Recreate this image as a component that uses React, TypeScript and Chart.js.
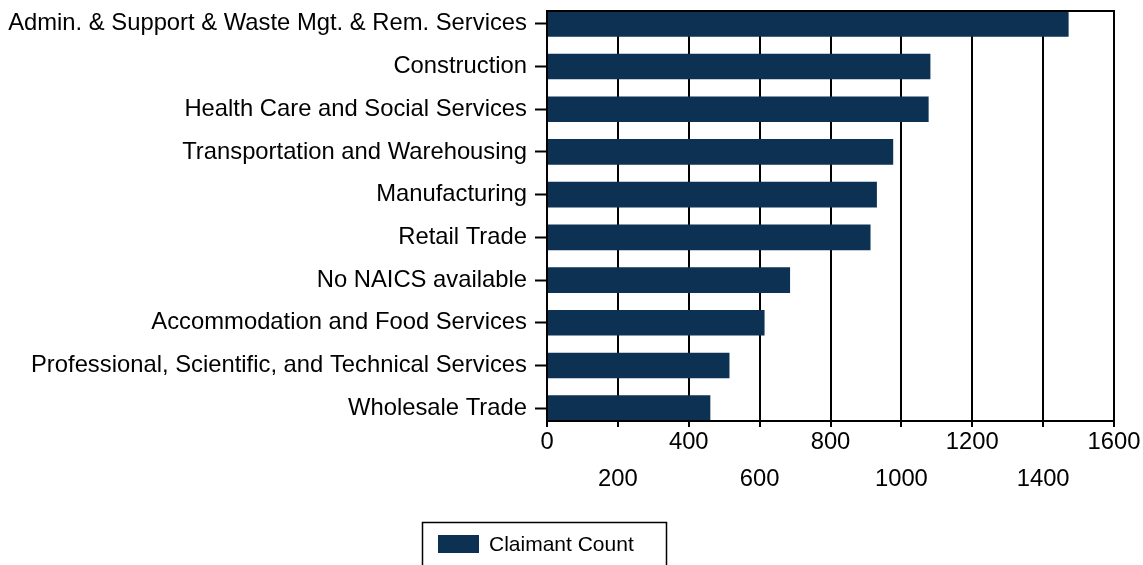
import React, { useEffect, useRef } from 'react';
import { Chart, registerables } from 'chart.js';

Chart.register(...registerables);

const categories = [
  'Admin. & Support & Waste Mgt. & Rem. Services',
  'Construction',
  'Health Care and Social Services',
  'Transportation and Warehousing',
  'Manufacturing',
  'Retail Trade',
  'No NAICS available',
  'Accommodation and Food Services',
  'Professional, Scientific, and Technical Services',
  'Wholesale Trade',
];
const claimantCounts = [1471, 1081, 1076, 976, 930, 912, 685, 613, 514, 460];
const xTickValues = [0, 200, 400, 600, 800, 1000, 1200, 1400, 1600];
const seriesLabel = 'Claimant Count';
const barColor = '#0d3152';

const FONT = '"Liberation Sans", Arial, sans-serif';
const W = 1143;
const H = 565;

export default function App() {
  const ref = useRef<HTMLCanvasElement>(null);

  useEffect(() => {
    if (!ref.current) return;

    const framePlugin = {
      id: 'frameAndLegend',
      afterDatasetsDraw(chart: any) {
        const { ctx, chartArea } = chart;
        ctx.save();
        ctx.strokeStyle = '#000';
        ctx.lineWidth = 2;
        ctx.strokeRect(chartArea.left, chartArea.top, chartArea.right - chartArea.left, chartArea.bottom - chartArea.top);
        ctx.restore();
      },
      afterDraw(chart: any) {
        const { ctx } = chart;
        const ds = chart.data.datasets[0];
        ctx.save();
        ctx.strokeStyle = '#000';
        ctx.lineWidth = 1.5;
        ctx.strokeRect(422.5, 522.5, 244, 60);
        ctx.fillStyle = ds.backgroundColor;
        ctx.fillRect(438, 535, 41, 18);
        ctx.fillStyle = '#000';
        ctx.font = `21px ${FONT}`;
        ctx.textBaseline = 'middle';
        ctx.textAlign = 'left';
        ctx.fillText(ds.label, 489, 545);
        ctx.restore();
      },
    };

    const chart = new Chart(ref.current, {
      type: 'bar',
      data: {
        datasets: [
          {
            label: seriesLabel,
            data: categories.map((_, i) => ({ x: claimantCounts[i], y: i })),
            backgroundColor: barColor,
            barThickness: 25,
          },
        ],
      },
      options: {
        animation: false,
        responsive: false,
        indexAxis: 'y',
        layout: { padding: { top: 11, right: W - 1114, left: 0, bottom: H - 421 - 100 } },
        plugins: { legend: { display: false }, tooltip: { enabled: false } },
        scales: {
          x: {
            type: 'linear',
            position: 'bottom',
            min: 0,
            max: 1600,
            afterBuildTicks: (s: any) => {
              s.ticks = xTickValues.map((v) => ({ value: v }));
            },
            ticks: {
              callback: (v: any, i: number) => (i % 2 === 0 ? String(v) : ['', String(v)]),
              font: { family: FONT, size: 23.8, lineHeight: 1.55 },
              color: '#000',
              padding: -3,
              maxRotation: 0,
              autoSkip: false,
            },
            grid: { color: '#000', lineWidth: 2, tickLength: 6, drawTicks: true },
            border: { color: '#000', width: 2 },
            afterFit: (s: any) => {
              s.height = 100;
              s.paddingLeft = 0;
              s.paddingRight = 0;
            },
          },
          y: {
            type: 'linear',
            reverse: true,
            min: -0.3,
            max: 9.3,
            offset: false,
            afterBuildTicks: (s: any) => {
              s.ticks = categories.map((_, i) => ({ value: i }));
            },
            ticks: {
              callback: (v: any) => categories[v],
              font: { family: FONT, size: 23.8 },
              color: '#000',
              padding: 8,
              autoSkip: false,
            },
            grid: { offset: false, drawOnChartArea: false, drawTicks: true, tickLength: 12, tickColor: '#000', tickWidth: 2 },
            border: { color: '#000', width: 2 },
            afterFit: (s: any) => {
              s.width = 547;
              s.paddingTop = 0;
              s.paddingBottom = 0;
            },
          },
        },
      },
      plugins: [framePlugin],
    } as any);

    return () => chart.destroy();
  }, []);

  return (
    <div style={{ position: 'fixed', left: 0, top: 0, width: W, height: H }}>
      <canvas ref={ref} width={W} height={H} style={{ display: 'block', width: W, height: H }} />
    </div>
  );
}
